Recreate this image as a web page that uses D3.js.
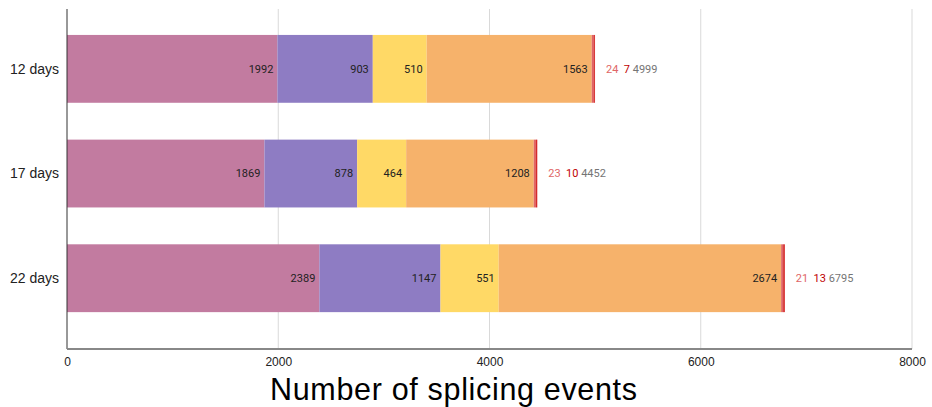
<!DOCTYPE html>
<html>
<head>
<meta charset="utf-8">
<script src="https://cdn.jsdelivr.net/npm/d3@7"></script>
<style>
html,body{margin:0;padding:0;background:#fff;}
svg{display:block;}
</style>
</head>
<body>
<svg id="chart" width="932" height="407"></svg>
<script>
const categories = ["12 days", "17 days", "22 days"];
const s1 = [1992, 1869, 2389];
const s2 = [903, 878, 1147];
const s3 = [510, 464, 551];
const s4 = [1563, 1208, 2674];
const s5 = [24, 23, 21];
const s6 = [7, 10, 13];
const totals = [4999, 4452, 6795];
const xTicks = [0, 2000, 4000, 6000, 8000];
const xTitle = "Number of splicing events";

const colors = ["#C27BA0", "#8E7CC3", "#FFD966", "#F6B26B", "#E06666", "#CC0000"];
const outsideColors = ["#E06666", "#C00000"];
const series = [s1, s2, s3, s4, s5, s6];

const svg = d3.select("#chart");
const plotLeft = 67, plotRight = 912, plotTop = 9, plotBottom = 349;

const x = d3.scaleLinear().domain([0, 8000]).range([plotLeft, plotRight]);
const y = d3.scaleBand().domain(categories).range([plotTop, plotBottom])
  .paddingInner(0.352).paddingOuter(0.3).align(0.413);

// gridlines
svg.append("g").selectAll("line").data(xTicks.filter(d => d > 0)).join("line")
  .attr("x1", d => x(d)).attr("x2", d => x(d))
  .attr("y1", plotTop).attr("y2", plotBottom)
  .attr("stroke", "#d9d9d9").attr("stroke-width", 1);

// stacked data
const rows = categories.map((c, i) => {
  let acc = 0;
  return series.map((s, k) => {
    const seg = {cat: c, k: k, v: s[i], x0: acc, x1: acc + s[i]};
    acc += s[i];
    return seg;
  });
});

const g = svg.append("g");
rows.forEach(row => {
  g.selectAll(null).data(row).join("rect")
    .attr("x", d => x(d.x0))
    .attr("y", d => y(d.cat))
    .attr("width", d => x(d.x1) - x(d.x0))
    .attr("height", y.bandwidth())
    .attr("fill", d => colors[d.k]);
  g.selectAll(null).data(row.filter(d => d.k < 4)).join("text")
    .attr("x", d => x(d.x1) - 4)
    .attr("y", d => y(d.cat) + y.bandwidth() / 2)
    .attr("dy", "0.35em")
    .attr("text-anchor", "end")
    .attr("font-family", "Roboto, 'Liberation Sans', sans-serif")
    .attr("font-size", 11)
    .attr("fill", "#222")
    .text(d => d.v);
});

// outside labels
categories.forEach((c, i) => {
  const t = g.append("text")
    .attr("x", x(totals[i]) + 11)
    .attr("y", y(c) + y.bandwidth() / 2)
    .attr("dy", "0.35em")
    .attr("font-family", "Roboto, 'Liberation Sans', sans-serif")
    .attr("font-size", 11)
    .attr("xml:space", "preserve");
  t.append("tspan").attr("fill", outsideColors[0]).text(s5[i]);
  t.append("tspan").attr("fill", outsideColors[1]).text("  " + s6[i]);
  t.append("tspan").attr("fill", "#757575").text(" " + totals[i]);
});

// left axis line
svg.append("line").attr("x1", plotLeft).attr("x2", plotLeft)
  .attr("y1", plotTop).attr("y2", plotBottom)
  .attr("stroke", "#333").attr("stroke-width", 1);

// bottom baseline
svg.append("line").attr("x1", plotLeft).attr("x2", plotRight)
  .attr("y1", plotBottom).attr("y2", plotBottom)
  .attr("stroke", "#888").attr("stroke-width", 2);

// category labels
svg.append("g").selectAll("text").data(categories).join("text")
  .attr("x", 59)
  .attr("y", d => y(d) + y.bandwidth() / 2)
  .attr("dy", "0.35em")
  .attr("text-anchor", "end")
  .attr("font-family", "'Liberation Sans', Arial, sans-serif")
  .attr("font-size", 14)
  .attr("fill", "#222")
  .text(d => d);

// x tick labels
const xAxis = d3.axisBottom(x).tickValues(xTicks).tickSize(0).tickPadding(8.5).tickFormat(d3.format("d"));
const ax = svg.append("g").attr("transform", `translate(0,${plotBottom})`).call(xAxis);
ax.select(".domain").remove();
ax.selectAll("text").attr("font-family", "'Liberation Sans', Arial, sans-serif")
  .attr("font-size", 12).attr("fill", "#222");

// x title
svg.append("text")
  .attr("x", 453.5).attr("y", 400)
  .attr("text-anchor", "middle")
  .attr("font-family", "'Liberation Sans', Arial, sans-serif")
  .attr("font-size", 30.5)
  .attr("textLength", 367)
  .attr("lengthAdjust", "spacing")
  .attr("fill", "#000")
  .text(xTitle);
</script>
</body>
</html>
